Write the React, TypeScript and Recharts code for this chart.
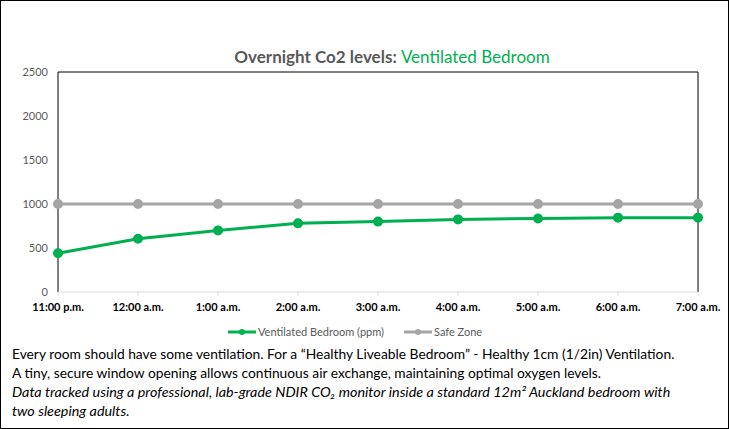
import React from 'react';
import { LineChart, Line, XAxis, YAxis, ReferenceLine } from 'recharts';

const times = ['11:00 p.m.', '12:00 a.m.', '1:00 a.m.', '2:00 a.m.', '3:00 a.m.', '4:00 a.m.', '5:00 a.m.', '6:00 a.m.', '7:00 a.m.'];
const ventilated = [440, 605, 700, 780, 800, 825, 835, 845, 845];
const safeZone = [1000, 1000, 1000, 1000, 1000, 1000, 1000, 1000, 1000];
const yTicks = [0, 500, 1000, 1500, 2000, 2500];

const data = times.map((t, i) => ({ time: t, ventilated: ventilated[i], safe: safeZone[i] }));

const GREEN = '#00B050';
const GRAY = '#A5A5A5';
const FONT = "Lato, 'Open Sans', sans-serif";

function LegendItem({ color, label, gap }: { color: string; label: string; gap: number }) {
  return (
    <div style={{ display: 'flex', alignItems: 'center', marginRight: gap }}>
      <svg width={28} height={10} style={{ marginRight: 2 }}>
        <line x1={0} y1={5} x2={28} y2={5} stroke={color} strokeWidth={3} />
        <circle cx={14} cy={5} r={3} fill={color} />
      </svg>
      <span style={{ fontSize: 11, color: '#595959' }}>{label}</span>
    </div>
  );
}

export default function App() {
  return (
    <div style={{ position: 'absolute', left: 0, top: 0, width: 729, height: 429, background: '#fff', fontFamily: FONT }}>
      <div style={{ position: 'absolute', left: 0, top: 0, width: 727, height: 427, border: '1px solid #000' }} />
      <div style={{ position: 'absolute', left: 212, top: 46, width: 360, textAlign: 'center', fontSize: 17, whiteSpace: 'nowrap' }}>
        <span style={{ color: '#595959', fontWeight: 'bold' }}>Overnight Co2 levels: </span>
        <span style={{ color: GREEN }}>Ventilated Bedroom</span>
      </div>
      <div style={{ position: 'absolute', left: 0, top: 0 }}>
        <LineChart width={729} height={320} data={data} margin={{ top: 72, right: 31, left: 0, bottom: 0 }}>
          <XAxis
            dataKey="time"
            interval={0}
            height={28}
            axisLine={{ stroke: '#D9D9D9' }}
            tickLine={{ stroke: '#D9D9D9' }}
            tickSize={4}
            tickMargin={7}
            tick={{ fill: '#000', fontSize: 11, fontWeight: 'bold', fontFamily: FONT }}
          />
          <YAxis
            domain={[0, 2500]}
            ticks={yTicks}
            width={58}
            axisLine={false}
            tickLine={false}
            tickMargin={4}
            tick={{ fill: '#595959', fontSize: 11, fontFamily: FONT }}
          />
          <ReferenceLine y={2500} stroke="#000" strokeWidth={1} />
          <ReferenceLine x={times[0]} stroke="#000" strokeWidth={1} />
          <ReferenceLine x={times[times.length - 1]} stroke="#000" strokeWidth={1} />
          <Line dataKey="safe" stroke={GRAY} strokeWidth={3} dot={{ r: 3.5, fill: GRAY, stroke: GRAY }} isAnimationActive={false} />
          <Line dataKey="ventilated" stroke={GREEN} strokeWidth={3} dot={{ r: 3.5, fill: GREEN, stroke: GREEN }} isAnimationActive={false} />
        </LineChart>
      </div>
      <div style={{ position: 'absolute', left: 228, top: 325, display: 'flex' }}>
        <LegendItem color={GREEN} label="Ventilated Bedroom (ppm)" gap={20} />
        <LegendItem color={GRAY} label="Safe Zone" gap={0} />
      </div>
      <div style={{ position: 'absolute', left: 12, top: 344, fontSize: 13.8, lineHeight: '19px', color: '#000', whiteSpace: 'nowrap' }}>
        <div>Every room should have some ventilation. For a “Healthy Liveable Bedroom” - Healthy 1cm (1/2in) Ventilation.</div>
        <div>A tiny, secure window opening allows continuous air exchange, maintaining optimal oxygen levels.</div>
        <div style={{ fontStyle: 'italic', fontSize: 14.35 }}>Data tracked using a professional, lab-grade NDIR CO₂ monitor inside a standard 12m² Auckland bedroom with</div>
        <div style={{ fontStyle: 'italic', fontSize: 14.35 }}>two sleeping adults.</div>
      </div>
    </div>
  );
}
